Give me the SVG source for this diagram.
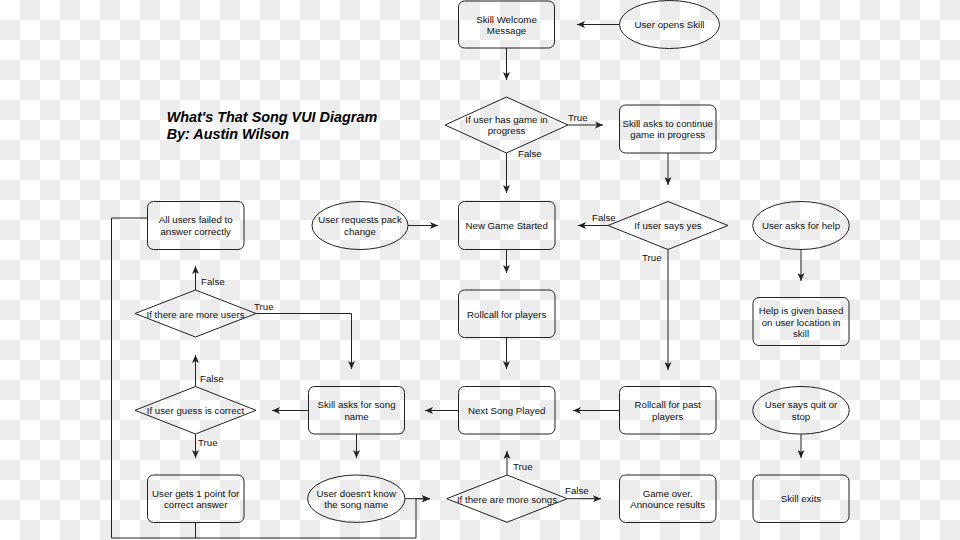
<svg xmlns="http://www.w3.org/2000/svg" width="960" height="540" viewBox="0 0 960 540">
<defs>
<pattern id="checker" x="0" y="0" width="40" height="40" patternUnits="userSpaceOnUse">
<rect width="40" height="40" fill="#ffffff"/>
<rect x="20" y="0" width="20" height="20" fill="#ececec"/>
<rect x="0" y="20" width="20" height="20" fill="#ececec"/>
</pattern>
<marker id="arr" viewBox="0 0 8 7" markerUnits="userSpaceOnUse" markerWidth="8" markerHeight="7" refX="8" refY="3.5" orient="auto">
<path d="M0,0 L8,3.5 L0,7 L2,3.5 z" fill="#222"/>
</marker>
</defs>
<style>
.shape{fill:none;stroke:#222;stroke-width:1}
.t{font-family:"Liberation Sans",Arial,Helvetica,sans-serif;font-size:9.7px;fill:#111;text-anchor:middle;dominant-baseline:central}
.lbl{font-family:"Liberation Sans",Arial,Helvetica,sans-serif;font-size:9.7px;fill:#111;text-anchor:start;dominant-baseline:central}
.title{font-family:"Liberation Sans",Arial,Helvetica,sans-serif;font-size:14.4px;font-weight:bold;font-style:italic;fill:#000;dominant-baseline:central}
.c{fill:none;stroke:#222;stroke-width:1}
.ca{fill:none;stroke:#222;stroke-width:1;marker-end:url(#arr)}
</style>
<rect width="960" height="540" fill="url(#checker)"/>

<g id="title">
<text class="title" x="166.7" y="116.7">What's That Song VUI Diagram</text>
<text class="title" x="166.7" y="134.3">By: Austin Wilson</text>
</g>

<g id="connectors">
<path class="ca" d="M619,24.5 L577,24.5"/>
<path class="ca" d="M506.5,48 L506.5,80"/>
<path class="ca" d="M568,125 L603,125"/>
<path class="ca" d="M506.5,153 L506.5,193"/>
<path class="ca" d="M668,153 L668,185"/>
<path class="ca" d="M608,225.5 L578,225.5"/>
<path class="ca" d="M668,249.5 L668,370"/>
<path class="ca" d="M408,225.5 L438,225.5"/>
<path class="ca" d="M506.5,249.5 L506.5,273"/>
<path class="ca" d="M506.5,337.5 L506.5,369"/>
<path class="ca" d="M619.5,410.5 L573,410.5"/>
<path class="ca" d="M458.5,410.5 L425,410.5"/>
<path class="ca" d="M308.5,410.5 L272,410.5"/>
<path class="ca" d="M356.5,434 L356.5,458"/>
<path class="ca" d="M195.5,434 L195.5,458"/>
<path class="ca" d="M195.5,386.5 L195.5,355"/>
<path class="ca" d="M195.5,290 L195.5,266"/>
<path class="ca" d="M256,313.5 L351.5,313.5 L351.5,369"/>
<path class="ca" d="M147.5,218 L111.5,218 L111.5,538 L416,538 L416,498.7 L430,498.7"/>
<path class="c" d="M195.5,522.5 L195.5,538"/>
<path class="ca" d="M405,498.7 L430,498.7"/>
<path class="ca" d="M507,475 L507,451"/>
<path class="ca" d="M567.3,498.7 L601,498.7"/>
<path class="ca" d="M801,249.5 L801,281"/>
<path class="ca" d="M801,434.5 L801,458"/>
<text class="lbl" x="568" y="117">True</text>
<text class="lbl" x="518" y="153.7">False</text>
<text class="lbl" x="592" y="217">False</text>
<text class="lbl" x="642" y="257.7">True</text>
<text class="lbl" x="201" y="281.7">False</text>
<text class="lbl" x="254" y="306">True</text>
<text class="lbl" x="200" y="378.3">False</text>
<text class="lbl" x="198" y="442.7">True</text>
<text class="lbl" x="513" y="466.7">True</text>
<text class="lbl" x="565" y="490.7">False</text>
</g>

<g id="welcome">
<rect class="shape" x="458.5" y="1" width="96" height="47" rx="6"/>
<text class="t" x="506.5" y="19">Skill Welcome</text>
<text class="t" x="506.5" y="30.5">Message</text>
</g>
<g id="opens">
<ellipse class="shape" cx="669.5" cy="24.5" rx="50" ry="24"/>
<text class="t" x="669.5" y="24.7">User opens Skill</text>
</g>
<g id="game-in-progress">
<polygon class="shape" points="445,125 506.5,97 568,125 506.5,153"/>
<text class="t" x="506.5" y="119.3">If user has game in</text>
<text class="t" x="506.5" y="130.8">progress</text>
</g>
<g id="continue">
<rect class="shape" x="619.5" y="105" width="96.5" height="48" rx="6"/>
<text class="t" x="667.7" y="123.3">Skill asks to continue</text>
<text class="t" x="667.7" y="134.8">game in progress</text>
</g>
<g id="new-game">
<rect class="shape" x="458.5" y="201.5" width="96.5" height="48" rx="6"/>
<text class="t" x="506.7" y="225.7">New Game Started</text>
</g>
<g id="pack-change">
<ellipse class="shape" cx="360" cy="225.5" rx="48" ry="24"/>
<text class="t" x="360" y="219.8">User requests pack</text>
<text class="t" x="360" y="231.3">change</text>
</g>
<g id="says-yes">
<polygon class="shape" points="608,225.5 668,201.5 728,225.5 668,249.5"/>
<text class="t" x="668" y="225.7">If user says yes</text>
</g>
<g id="asks-help">
<ellipse class="shape" cx="801" cy="225.5" rx="48.3" ry="24"/>
<text class="t" x="801" y="225.7">User asks for help</text>
</g>
<g id="help-given">
<rect class="shape" x="753" y="297.5" width="96" height="48" rx="6"/>
<text class="t" x="801" y="310.5">Help is given based</text>
<text class="t" x="801" y="322">on user location in</text>
<text class="t" x="801" y="333.5">skill</text>
</g>
<g id="all-failed">
<rect class="shape" x="147.5" y="201.5" width="96.5" height="48" rx="6"/>
<text class="t" x="195.7" y="219.8">All users failed to</text>
<text class="t" x="195.7" y="231.3">answer correctly</text>
</g>
<g id="more-users">
<polygon class="shape" points="135,313.5 195.5,290 256,313.5 195.5,337"/>
<text class="t" x="195.5" y="314">If there are more users</text>
</g>
<g id="rollcall">
<rect class="shape" x="458.5" y="290" width="96.5" height="47.5" rx="6"/>
<text class="t" x="506.7" y="314">Rollcall for players</text>
</g>
<g id="guess-correct">
<polygon class="shape" points="135,410.3 195.5,386.5 256,410.3 195.5,434"/>
<text class="t" x="195.5" y="410.6">If user guess is correct</text>
</g>
<g id="asks-song">
<rect class="shape" x="308.5" y="386.5" width="96" height="47.5" rx="6"/>
<text class="t" x="356.5" y="404.5">Skill asks for song</text>
<text class="t" x="356.5" y="416">name</text>
</g>
<g id="next-song">
<rect class="shape" x="458.5" y="386.5" width="96.5" height="47.5" rx="6"/>
<text class="t" x="506.7" y="410.6">Next Song Played</text>
</g>
<g id="rollcall-past">
<rect class="shape" x="619.5" y="386.5" width="96.5" height="47.5" rx="6"/>
<text class="t" x="667.7" y="404.5">Rollcall for past</text>
<text class="t" x="667.7" y="416">players</text>
</g>
<g id="quit">
<ellipse class="shape" cx="801" cy="410.3" rx="48.3" ry="23.8"/>
<text class="t" x="801" y="404.5">User says quit or</text>
<text class="t" x="801" y="416">stop</text>
</g>
<g id="user-point">
<rect class="shape" x="147.5" y="475" width="96.5" height="47.5" rx="6"/>
<text class="t" x="195.7" y="493.3">User gets 1 point for</text>
<text class="t" x="195.7" y="504.8">correct answer</text>
</g>
<g id="dont-know">
<ellipse class="shape" cx="356.3" cy="498.7" rx="48.7" ry="23.7"/>
<text class="t" x="356.3" y="493.3">User doesn't know</text>
<text class="t" x="356.3" y="504.8">the song name</text>
</g>
<g id="more-songs">
<polygon class="shape" points="446.7,498.7 507,475 567.3,498.7 507,522.3"/>
<text class="t" x="507" y="499">If there are more songs</text>
</g>
<g id="game-over">
<rect class="shape" x="619.5" y="475" width="96.5" height="47.5" rx="6"/>
<text class="t" x="667.7" y="493.3">Game over.</text>
<text class="t" x="667.7" y="504.8">Announce results</text>
</g>
<g id="exits">
<rect class="shape" x="753" y="475" width="96" height="47.5" rx="6"/>
<text class="t" x="801" y="498.5">Skill exits</text>
</g>
</svg>
